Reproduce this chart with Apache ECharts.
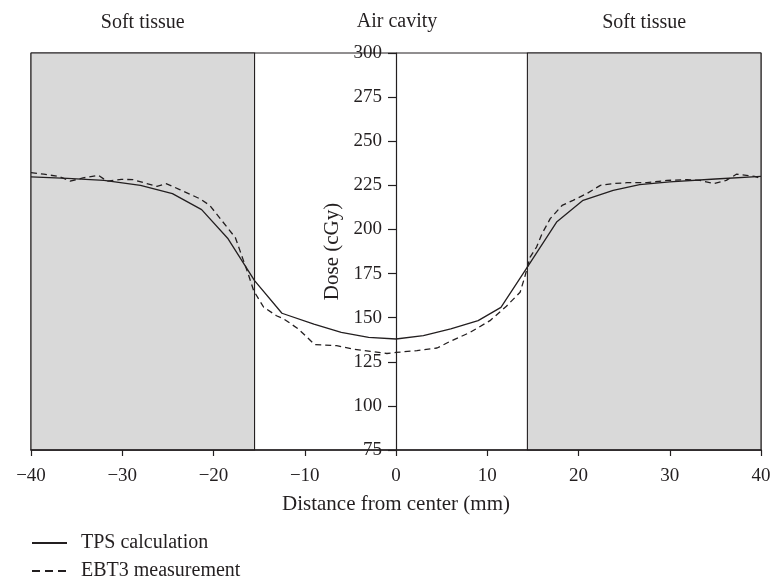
<!DOCTYPE html>
<html>
<head>
<meta charset="utf-8">
<script src="https://cdn.jsdelivr.net/npm/echarts@6/dist/echarts.min.js"></script>
<style>
  html, body { margin: 0; padding: 0; background: #fff; }
  #chart { width: 773px; height: 577px; }
</style>
</head>
<body>
<div id="chart"></div>
<script>
// Dose profile across an air cavity embedded in soft tissue
const tpsX = [-40, -36, -32, -28, -24.5, -21.3, -18.4, -15.5, -12.5, -9, -6, -3, 0, 3, 6, 9, 11.5, 14.5, 17.6, 20.5, 23.8, 26.7, 30, 35, 40];
const tpsY = [229.8, 229, 227.8, 225, 220.3, 211.2, 194.7, 171, 152.5, 146.4, 141.7, 138.8, 137.9, 139.8, 143.6, 148.3, 155.8, 179.5, 204.2, 216.5, 222.2, 225.4, 227, 228.6, 230.1];

const ebtX = [-40, -38.6, -37, -35.7, -34.3, -32.6, -31.7, -30.1, -28.8, -27.3, -26.2, -25.2, -23.7, -21.5, -20.4, -19.1, -17.6, -17.1, -16.2, -15.6, -14.5, -13.1, -12.3, -10.7, -8.9, -6.5, -4.7, -2.8, -1, 0, 2.3, 4.5, 5.9, 8.1, 10.3, 12.1, 13.6, 14.1, 14.7, 15.4, 16, 16.9, 18.2, 19.4, 20.9, 22.4, 23.8, 25.3, 27.5, 29.7, 31.9, 33.3, 34.8, 36.2, 37.3, 38.4, 39.3, 40];
const ebtY = [232.2, 231.3, 230.1, 227.4, 229.2, 230.7, 227.4, 228.4, 228.2, 226, 224.4, 226, 222.6, 217.4, 213.6, 205.1, 195.3, 188, 174.8, 165.3, 155.9, 151.1, 149.3, 143.6, 134.7, 134.1, 132.2, 130.9, 129.7, 130.3, 131.3, 132.8, 136.5, 141.6, 148.3, 156.5, 164.4, 172.9, 184.3, 190, 197.6, 206.1, 213.6, 216.5, 220.3, 225, 226, 226.5, 226.5, 227.8, 228.2, 227.8, 226, 227.8, 231.3, 230.7, 230.1, 228.8];

// Tissue regions (mm from center)
const tissueLeft = [-40, -15.5];
const tissueRight = [14.4, 40];
const regionLabels = ['Soft tissue', 'Air cavity', 'Soft tissue'];

const xTicks = { min: -40, max: 40, step: 10 };
const yTicks = { min: 75, max: 300, step: 25 };

const seriesNames = ['TPS calculation', 'EBT3 measurement'];

const ink = '#231f20';
const serif = '"Liberation Serif", "DejaVu Serif", serif';
const dash = [6, 4];

const zip = (xs, ys) => xs.map((x, i) => [x, ys[i]]);

const gridBox = { left: 31, right: 12, top: 53, bottom: 127 };

const legendBase = {
  orient: 'vertical',
  left: 31,
  itemWidth: 35,
  itemHeight: 12,
  padding: 0,
  itemStyle: { opacity: 0 },
  textStyle: { fontFamily: serif, fontSize: 20, color: ink, padding: [0, 0, 0, 9] }
};

const chart = echarts.init(document.getElementById('chart'), null, { renderer: 'canvas' });

chart.setOption({
  animation: false,
  backgroundColor: '#fff',
  textStyle: { fontFamily: serif, color: ink },
  title: {
    text: regionLabels[1],
    left: 397,
    top: 12,
    padding: 0,
    textAlign: 'center',
    textStyle: { fontFamily: serif, fontWeight: 'normal', fontSize: 20, color: ink }
  },
  grid: Object.assign({
    show: true, borderColor: ink, borderWidth: 1, backgroundColor: 'transparent',
    containLabel: false, outerBoundsMode: 'none'
  }, gridBox),
  legend: [
    Object.assign({ top: 533, data: [seriesNames[0]] }, legendBase),
    Object.assign({ top: 561, data: [seriesNames[1]], lineStyle: { type: [8, 5] } }, legendBase)
  ],
  xAxis: {
    type: 'value',
    min: xTicks.min, max: xTicks.max, interval: xTicks.step,
    name: 'Distance from center (mm)',
    nameLocation: 'middle',
    nameGap: 44,
    nameTextStyle: { fontFamily: serif, fontSize: 21, color: ink },
    axisLine: { show: true, onZero: false, lineStyle: { color: ink, width: 1.6 } },
    axisTick: { show: true, inside: false, length: 6, lineStyle: { color: ink, width: 1.2 } },
    axisLabel: {
      margin: 17,
      fontFamily: serif, fontSize: 19, color: ink,
      formatter: v => String(v).replace('-', '\u2212')
    },
    splitLine: { show: false },
    z: 6
  },
  yAxis: {
    type: 'value',
    position: 'left',
    offset: 0,
    min: yTicks.min, max: yTicks.max, interval: yTicks.step,
    name: 'Dose (cGy)',
    nameLocation: 'middle',
    nameRotate: 90,
    nameGap: 53,
    nameTextStyle: { fontFamily: serif, fontSize: 21, color: ink },
    axisLine: { show: true, onZero: false, lineStyle: { color: ink, width: 1.2 } },
    axisTick: { show: true, inside: false, length: 8, lineStyle: { color: ink, width: 1.2 } },
    axisLabel: { margin: 14, fontFamily: serif, fontSize: 19, color: ink },
    splitLine: { show: false },
    z: 5
  },
  series: [
    {
      name: seriesNames[0],
      type: 'line',
      data: zip(tpsX, tpsY),
      symbol: 'none',
      smooth: false,
      lineStyle: { color: ink, width: 1.3, type: 'solid' },
      itemStyle: { color: ink },
      z: 3,
      markArea: {
        silent: true,
        itemStyle: { color: '#d9d9d9', borderColor: ink, borderWidth: 1.1 },
        label: {
          show: true, position: 'top', distance: 20,
          fontFamily: serif, fontSize: 20, color: ink
        },
        data: [
          [{ name: regionLabels[0], xAxis: tissueLeft[0] }, { xAxis: tissueLeft[1] }],
          [{ name: regionLabels[2], xAxis: tissueRight[0] }, { xAxis: tissueRight[1] }]
        ]
      }
    },
    {
      name: seriesNames[1],
      type: 'line',
      data: zip(ebtX, ebtY),
      symbol: 'none',
      smooth: false,
      lineStyle: { color: ink, width: 1.3, type: dash },
      itemStyle: { color: ink },
      z: 3
    }
  ]
});

// Put the dose axis on the x = 0 line of the distance axis
const zeroPx = chart.convertToPixel({ xAxisIndex: 0 }, 0);
chart.setOption({ yAxis: { offset: -(zeroPx - gridBox.left) } });
</script>
</body>
</html>
